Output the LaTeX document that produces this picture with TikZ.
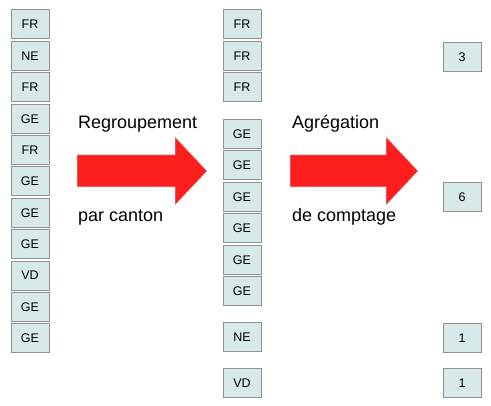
\documentclass[tikz,border=0pt]{standalone}
\usepackage{fontspec}
\setmainfont{Liberation Sans}
\definecolor{boxfill}{RGB}{216,233,233}
\definecolor{boxline}{RGB}{145,145,145}
\definecolor{arrowred}{RGB}{255,30,30}
\tikzset{
  cell/.style={draw=boxline, line width=1pt, fill=boxfill, minimum width=38pt, minimum height=29pt, inner sep=0pt, font=\fontsize{12.5}{13}\selectfont},
  bigarrow/.style={fill=arrowred, draw=gray!50, line width=0.5pt},
  caption/.style={anchor=base west, inner sep=0pt, font=\fontsize{18}{20}\selectfont}
}
\begin{document}
\begin{tikzpicture}[x=1pt,y=-1pt]
\useasboundingbox (0,0) rectangle (491,406);
% left column
\foreach \t [count=\i from 0] in {FR,NE,FR,GE,FR,GE,GE,GE,VD,GE,GE}{
  \node[cell] (l\i) at (30,{24.5+31.4*\i}) {\t};
}
% middle column
\node[cell] (m0) at (242,24.5) {FR};
\node[cell] (m1) at (242,56) {FR};
\node[cell] (m2) at (242,87.5) {FR};
\foreach \i in {0,...,5}{
  \node[cell] (g\i) at (242,{133.8+31.5*\i}) {GE};
}
\node[cell] (mne) at (242,337.5) {NE};
\node[cell] (mvd) at (242,383) {VD};
% right column
\node[cell] (r3) at (462,57.5) {3};
\node[cell] (r6) at (462,197.5) {6};
\node[cell] (rne) at (462,338) {1};
\node[cell] (rvd) at (462,383.5) {1};
% arrows
\draw[bigarrow] (77,155) -- (175,155) -- (175,137) -- (207,171) -- (175,205) -- (175,187) -- (77,187) -- cycle;
\draw[bigarrow] (290,155) -- (386,155) -- (386,137) -- (418,171) -- (386,205) -- (386,187) -- (290,187) -- cycle;
% captions
\node[caption] (t1) at (78,129) {Regroupement};
\node[caption] (t2) at (78,222) {par canton};
\node[caption] (t3) at (292,129) {Agrégation};
\node[caption] (t4) at (292,222) {de comptage};
\end{tikzpicture}
\end{document}
